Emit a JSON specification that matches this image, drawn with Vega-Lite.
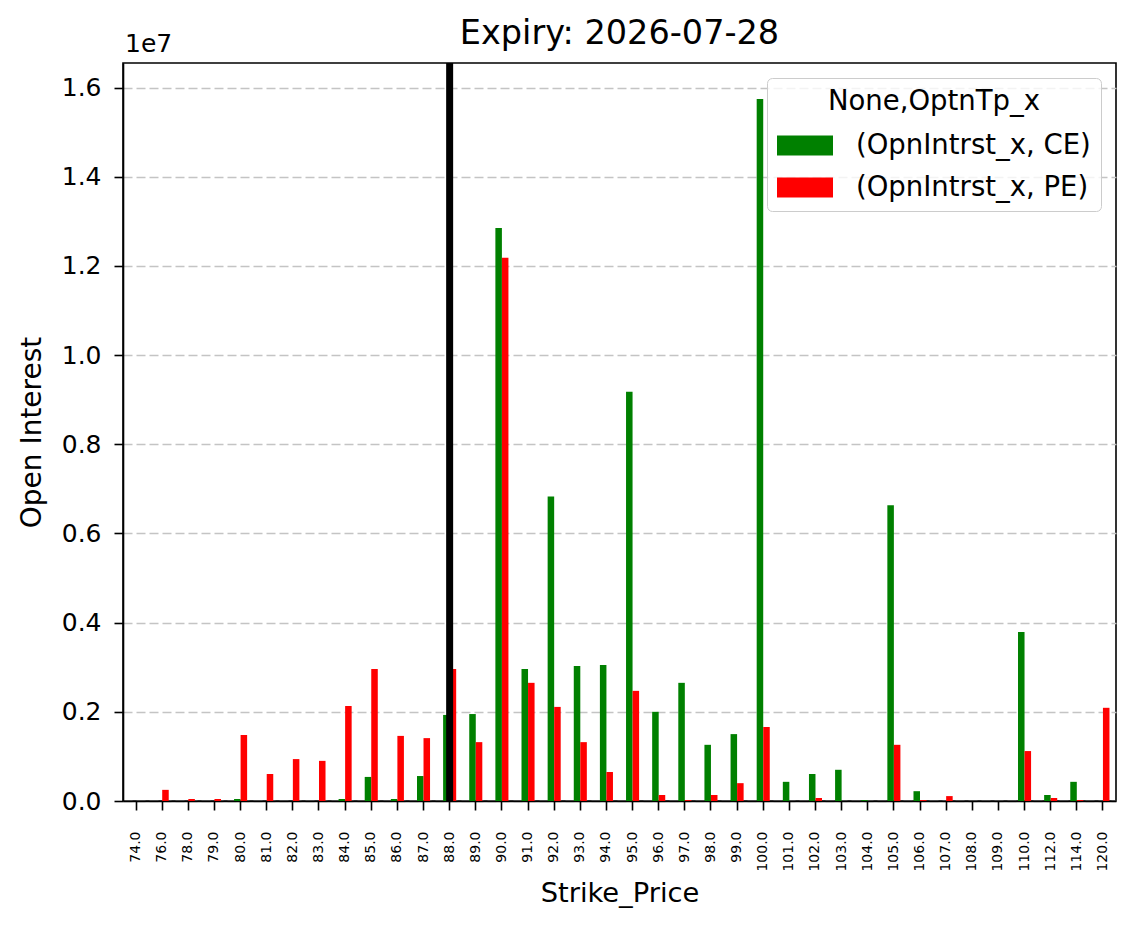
{
  "$schema": "https://vega.github.io/schema/vega-lite/v6.json",
  "width": 993,
  "height": 738,
  "autosize": {"type": "none"},
  "padding": {"left": 123, "top": 63, "right": 18, "bottom": 128},
  "background": "white",
  "config": {
    "font": "DejaVu Sans",
    "view": {"stroke": "black", "strokeWidth": 1.6},
    "text": {"font": "DejaVu Sans"}
  },
  "title": {"text": "Expiry: 2026-07-28", "fontSize": 33.5, "fontWeight": "normal", "color": "black", "offset": 14, "dy": 33, "anchor": "middle", "font": "DejaVu Sans"},
  "datasets": {
    "oi": [
      {"strike": "74.0", "series": "(OpnIntrst_x, CE)", "oi": 0}, {"strike": "74.0", "series": "(OpnIntrst_x, PE)", "oi": 0},
      {"strike": "76.0", "series": "(OpnIntrst_x, CE)", "oi": 0}, {"strike": "76.0", "series": "(OpnIntrst_x, PE)", "oi": 250000},
      {"strike": "78.0", "series": "(OpnIntrst_x, CE)", "oi": 0}, {"strike": "78.0", "series": "(OpnIntrst_x, PE)", "oi": 45000},
      {"strike": "79.0", "series": "(OpnIntrst_x, CE)", "oi": 0}, {"strike": "79.0", "series": "(OpnIntrst_x, PE)", "oi": 45000},
      {"strike": "80.0", "series": "(OpnIntrst_x, CE)", "oi": 45000}, {"strike": "80.0", "series": "(OpnIntrst_x, PE)", "oi": 1480000},
      {"strike": "81.0", "series": "(OpnIntrst_x, CE)", "oi": 0}, {"strike": "81.0", "series": "(OpnIntrst_x, PE)", "oi": 605000},
      {"strike": "82.0", "series": "(OpnIntrst_x, CE)", "oi": 0}, {"strike": "82.0", "series": "(OpnIntrst_x, PE)", "oi": 940000},
      {"strike": "83.0", "series": "(OpnIntrst_x, CE)", "oi": 0}, {"strike": "83.0", "series": "(OpnIntrst_x, PE)", "oi": 900000},
      {"strike": "84.0", "series": "(OpnIntrst_x, CE)", "oi": 45000}, {"strike": "84.0", "series": "(OpnIntrst_x, PE)", "oi": 2130000},
      {"strike": "85.0", "series": "(OpnIntrst_x, CE)", "oi": 540000}, {"strike": "85.0", "series": "(OpnIntrst_x, PE)", "oi": 2960000},
      {"strike": "86.0", "series": "(OpnIntrst_x, CE)", "oi": 45000}, {"strike": "86.0", "series": "(OpnIntrst_x, PE)", "oi": 1460000},
      {"strike": "87.0", "series": "(OpnIntrst_x, CE)", "oi": 560000}, {"strike": "87.0", "series": "(OpnIntrst_x, PE)", "oi": 1410000},
      {"strike": "88.0", "series": "(OpnIntrst_x, CE)", "oi": 1930000}, {"strike": "88.0", "series": "(OpnIntrst_x, PE)", "oi": 2960000},
      {"strike": "89.0", "series": "(OpnIntrst_x, CE)", "oi": 1950000}, {"strike": "89.0", "series": "(OpnIntrst_x, PE)", "oi": 1320000},
      {"strike": "90.0", "series": "(OpnIntrst_x, CE)", "oi": 12850000}, {"strike": "90.0", "series": "(OpnIntrst_x, PE)", "oi": 12180000},
      {"strike": "91.0", "series": "(OpnIntrst_x, CE)", "oi": 2960000}, {"strike": "91.0", "series": "(OpnIntrst_x, PE)", "oi": 2650000},
      {"strike": "92.0", "series": "(OpnIntrst_x, CE)", "oi": 6830000}, {"strike": "92.0", "series": "(OpnIntrst_x, PE)", "oi": 2110000},
      {"strike": "93.0", "series": "(OpnIntrst_x, CE)", "oi": 3030000}, {"strike": "93.0", "series": "(OpnIntrst_x, PE)", "oi": 1320000},
      {"strike": "94.0", "series": "(OpnIntrst_x, CE)", "oi": 3050000}, {"strike": "94.0", "series": "(OpnIntrst_x, PE)", "oi": 650000},
      {"strike": "95.0", "series": "(OpnIntrst_x, CE)", "oi": 9180000}, {"strike": "95.0", "series": "(OpnIntrst_x, PE)", "oi": 2470000},
      {"strike": "96.0", "series": "(OpnIntrst_x, CE)", "oi": 2000000}, {"strike": "96.0", "series": "(OpnIntrst_x, PE)", "oi": 135000},
      {"strike": "97.0", "series": "(OpnIntrst_x, CE)", "oi": 2650000}, {"strike": "97.0", "series": "(OpnIntrst_x, PE)", "oi": 20000},
      {"strike": "98.0", "series": "(OpnIntrst_x, CE)", "oi": 1260000}, {"strike": "98.0", "series": "(OpnIntrst_x, PE)", "oi": 135000},
      {"strike": "99.0", "series": "(OpnIntrst_x, CE)", "oi": 1500000}, {"strike": "99.0", "series": "(OpnIntrst_x, PE)", "oi": 400000},
      {"strike": "100.0", "series": "(OpnIntrst_x, CE)", "oi": 15740000}, {"strike": "100.0", "series": "(OpnIntrst_x, PE)", "oi": 1660000},
      {"strike": "101.0", "series": "(OpnIntrst_x, CE)", "oi": 430000}, {"strike": "101.0", "series": "(OpnIntrst_x, PE)", "oi": 0},
      {"strike": "102.0", "series": "(OpnIntrst_x, CE)", "oi": 605000}, {"strike": "102.0", "series": "(OpnIntrst_x, PE)", "oi": 67000},
      {"strike": "103.0", "series": "(OpnIntrst_x, CE)", "oi": 700000}, {"strike": "103.0", "series": "(OpnIntrst_x, PE)", "oi": 0},
      {"strike": "104.0", "series": "(OpnIntrst_x, CE)", "oi": 20000}, {"strike": "104.0", "series": "(OpnIntrst_x, PE)", "oi": 0},
      {"strike": "105.0", "series": "(OpnIntrst_x, CE)", "oi": 6630000}, {"strike": "105.0", "series": "(OpnIntrst_x, PE)", "oi": 1260000},
      {"strike": "106.0", "series": "(OpnIntrst_x, CE)", "oi": 220000}, {"strike": "106.0", "series": "(OpnIntrst_x, PE)", "oi": 20000},
      {"strike": "107.0", "series": "(OpnIntrst_x, CE)", "oi": 0}, {"strike": "107.0", "series": "(OpnIntrst_x, PE)", "oi": 110000},
      {"strike": "108.0", "series": "(OpnIntrst_x, CE)", "oi": 0}, {"strike": "108.0", "series": "(OpnIntrst_x, PE)", "oi": 0},
      {"strike": "109.0", "series": "(OpnIntrst_x, CE)", "oi": 0}, {"strike": "109.0", "series": "(OpnIntrst_x, PE)", "oi": 0},
      {"strike": "110.0", "series": "(OpnIntrst_x, CE)", "oi": 3790000}, {"strike": "110.0", "series": "(OpnIntrst_x, PE)", "oi": 1120000},
      {"strike": "112.0", "series": "(OpnIntrst_x, CE)", "oi": 135000}, {"strike": "112.0", "series": "(OpnIntrst_x, PE)", "oi": 67000},
      {"strike": "114.0", "series": "(OpnIntrst_x, CE)", "oi": 430000}, {"strike": "114.0", "series": "(OpnIntrst_x, PE)", "oi": 20000},
      {"strike": "120.0", "series": "(OpnIntrst_x, CE)", "oi": 0}, {"strike": "120.0", "series": "(OpnIntrst_x, PE)", "oi": 2090000}
    ],
    "spot": [{"strike": "88.0"}],
    "exponent": [{"strike": "74.0", "top": 16550000, "label": "1e7"}]
  },
  "layer": [
    {
      "data": {"name": "oi"},
      "mark": {"type": "bar"},
      "encoding": {
        "x": {
          "field": "strike", "type": "ordinal",
          "scale": {"domain": ["74.0","76.0","78.0","79.0","80.0","81.0","82.0","83.0","84.0","85.0","86.0","87.0","88.0","89.0","90.0","91.0","92.0","93.0","94.0","95.0","96.0","97.0","98.0","99.0","100.0","101.0","102.0","103.0","104.0","105.0","106.0","107.0","108.0","109.0","110.0","112.0","114.0","120.0"], "paddingInner": 0.5, "paddingOuter": 0.25},
          "axis": {"title": "Strike_Price", "titleFontSize": 27.3, "titleFontWeight": "normal", "titleColor": "black", "labelFontSize": 14, "labelColor": "black", "labelAngle": -90, "tickSize": 9, "tickWidth": 1.6, "tickColor": "black", "domainColor": "black", "domainWidth": 1.6, "labelPadding": 21, "titlePadding": 8, "grid": false}
        },
        "xOffset": {"field": "series", "type": "nominal", "scale": {"paddingInner": 0, "paddingOuter": 0}},
        "y": {
          "field": "oi", "type": "quantitative",
          "scale": {"domain": [0, 16550000], "nice": false},
          "axis": {"values": [0, 2000000, 4000000, 6000000, 8000000, 10000000, 12000000, 14000000, 16000000], "labelExpr": "format(datum.value/1e7, '.1f')", "title": "Open Interest", "titleFontSize": 28, "titleFontWeight": "normal", "titleColor": "black", "labelFontSize": 25, "labelColor": "black", "tickSize": 9, "tickWidth": 1.6, "tickColor": "black", "domainColor": "black", "domainWidth": 1.6, "labelPadding": 13, "titlePadding": 15, "grid": true, "gridDash": [9, 4], "gridColor": "#c4c4c4", "gridWidth": 1.5}
        },
        "color": {
          "field": "series", "type": "nominal",
          "scale": {"domain": ["(OpnIntrst_x, CE)", "(OpnIntrst_x, PE)"], "range": ["#008000", "#ff0000"]},
          "legend": {"title": "None,OptnTp_x", "orient": "top-right", "offset": 15, "titleFontSize": 27.5, "titleFontWeight": "normal", "titleColor": "black", "titleLimit": 500, "labelFontSize": 27.5, "labelColor": "black", "labelLimit": 500, "symbolType": "M-1,-0.357H1V0.357H-1Z", "symbolSize": 3136, "symbolStrokeWidth": 0, "symbolOpacity": 1, "fillColor": "rgba(255,255,255,0.8)", "strokeColor": "#cccccc", "cornerRadius": 5, "padding": 10, "labelOffset": 23, "titleAnchor": "middle", "titlePadding": 2, "rowPadding": 0}
        }
      }
    },
    {
      "data": {"name": "spot"},
      "mark": {"type": "rule", "color": "black", "strokeWidth": 7},
      "encoding": {"x": {"field": "strike", "type": "ordinal"}}
    },
    {
      "data": {"name": "exponent"},
      "mark": {"type": "text", "align": "left", "baseline": "bottom", "dx": -11, "dy": -6, "fontSize": 25, "color": "black"},
      "encoding": {
        "x": {"field": "strike", "type": "ordinal"},
        "y": {"field": "top", "type": "quantitative"},
        "text": {"field": "label"}
      }
    }
  ]
}
